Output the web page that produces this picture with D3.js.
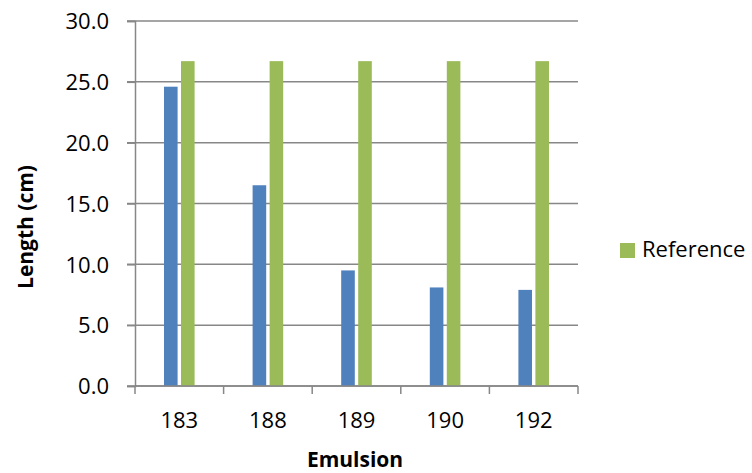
<!DOCTYPE html>
<html>
<head>
<meta charset="utf-8">
<script src="https://cdn.jsdelivr.net/npm/d3@7"></script>
<style>
  body { margin: 0; background: #fff; }
  text { font-family: "Open Sans", "Noto Sans", sans-serif; fill: #000; }
</style>
</head>
<body>
<svg width="752" height="473"></svg>
<script>
const categories = ['183', '188', '189', '190', '192'];
const sampleValues = [24.6, 16.5, 9.5, 8.1, 7.9];
const referenceValues = [26.7, 26.7, 26.7, 26.7, 26.7];
const yTicks = [0, 5, 10, 15, 20, 25, 30];

const svg = d3.select('svg');
const plotLeft = 135, plotRight = 578, plotTop = 21, plotBottom = 386;

const x = d3.scaleBand().domain(categories).range([plotLeft, plotRight]);
const y = d3.scaleLinear().domain([0, 30]).range([plotBottom, plotTop]);

// gridlines
svg.append('g').selectAll('line').data(yTicks).join('line')
  .attr('x1', plotLeft - 8).attr('x2', plotRight)
  .attr('y1', d => y(d)).attr('y2', d => y(d))
  .attr('stroke', '#878787').attr('stroke-width', 1.5);

// y axis
const yAxis = svg.append('g')
  .attr('transform', `translate(${plotLeft},0)`)
  .call(d3.axisLeft(y).tickValues(yTicks).tickFormat(d3.format('.1f')).tickSize(8).tickPadding(18));
yAxis.select('.domain').attr('stroke', '#878787').attr('stroke-width', 1.5);
yAxis.selectAll('.tick line').attr('stroke', '#878787').attr('stroke-width', 1.5);
yAxis.selectAll('text').attr('font-size', 22).attr('dy', '0.35em')
  .style('font-family', '"Open Sans", sans-serif');

// bars
const bw = 13.6;
svg.append('g').selectAll('rect').data(categories).join('rect')
  .attr('x', d => x(d) + x.bandwidth() / 2 - bw - 1.7)
  .attr('y', (d, i) => y(sampleValues[i]))
  .attr('width', bw)
  .attr('height', (d, i) => y(0) - y(sampleValues[i]))
  .attr('fill', '#4F81BD');
svg.append('g').selectAll('rect').data(categories).join('rect')
  .attr('x', d => x(d) + x.bandwidth() / 2 + 1.7)
  .attr('y', (d, i) => y(referenceValues[i]))
  .attr('width', bw)
  .attr('height', (d, i) => y(0) - y(referenceValues[i]))
  .attr('fill', '#9BBB59');

// x axis
const xAxis = svg.append('g').attr('transform', `translate(0,${plotBottom})`);
xAxis.append('line').attr('x1', plotLeft).attr('x2', plotRight)
  .attr('stroke', '#878787').attr('stroke-width', 1.5);
xAxis.selectAll('.tk').data(d3.range(categories.length + 1)).join('line')
  .attr('class', 'tk')
  .attr('x1', i => plotLeft + i * x.step()).attr('x2', i => plotLeft + i * x.step())
  .attr('y1', 0).attr('y2', 8)
  .attr('stroke', '#878787').attr('stroke-width', 1.5);
xAxis.selectAll('text').data(categories).join('text')
  .attr('x', d => x(d) + x.bandwidth() / 2).attr('y', 42)
  .attr('text-anchor', 'middle').attr('font-size', 22).text(d => d);

// axis titles
svg.append('text').attr('x', 355).attr('y', 467).attr('text-anchor', 'middle')
  .attr('font-size', 21).attr('font-weight', 'bold').text('Emulsion');
svg.append('text').attr('transform', 'translate(33,227) rotate(-90)')
  .attr('text-anchor', 'middle').attr('font-size', 21).attr('font-weight', 'bold').text('Length (cm)');

// legend
svg.append('rect').attr('x', 620).attr('y', 243).attr('width', 15).attr('height', 15).attr('fill', '#9BBB59');
svg.append('text').attr('x', 642).attr('y', 257).attr('font-size', 22).text('Reference');
</script>
</body>
</html>
